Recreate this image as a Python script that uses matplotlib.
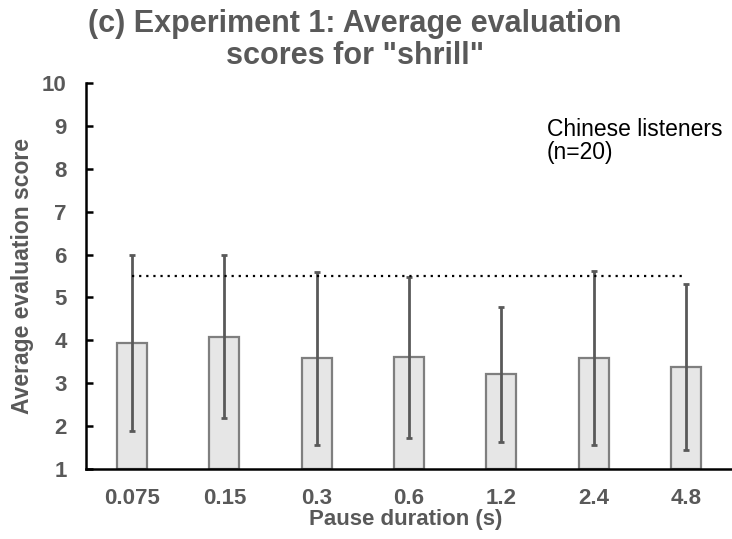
import matplotlib.pyplot as plt
import numpy as np

# Experiment 1 scores for "shrill", Chinese listeners
pauses = ["0.075", "0.15", "0.3", "0.6", "1.2", "2.4", "4.8"]
means = [3.94, 4.08, 3.58, 3.60, 3.21, 3.58, 3.38]
sds = [2.05, 1.90, 2.01, 1.88, 1.57, 2.03, 1.94]
ref_level = 5.5

GREY = "#595959"
plt.rcParams['font.family'] = ['Liberation Sans', 'DejaVu Sans']

fig = plt.figure(figsize=(7.32, 5.39), dpi=100)
ax = fig.add_axes([86 / 732, 70 / 539, 646 / 732, 386 / 539])

x = np.arange(len(pauses))
ax.bar(x, np.array(means) - 1, bottom=1, width=0.325, color="#e6e6e6",
       edgecolor="#7f7f7f", linewidth=1.6, zorder=2)
ax.errorbar(x, means, yerr=sds, fmt="none", ecolor=GREY, elinewidth=2.0,
            capsize=2, capthick=2.0, zorder=3)
ax.plot([x[0], x[-1]], [ref_level, ref_level], linestyle=(0, (1, 2.2)),
        color="black", linewidth=1.6, zorder=4)

ax.set_xlim(-0.5, 6.5)
ax.set_ylim(1, 10)
ax.set_yticks(range(1, 11))
ax.set_xticks(x)
ax.set_xticklabels(pauses)

for s in ["top", "right"]:
    ax.spines[s].set_visible(False)
for s in ["left", "bottom"]:
    ax.spines[s].set_linewidth(1.8)
ax.tick_params(direction="in", length=5, width=1.8, colors="black",
               labelcolor=GREY)
ax.tick_params(axis="x", pad=14)
ax.tick_params(axis="y", pad=14)
for lab in ax.get_xticklabels():
    lab.set_fontsize(16)
    lab.set_fontweight("bold")
for lab in ax.get_yticklabels():
    lab.set_fontsize(16)
    lab.set_fontweight("bold")

ax.set_ylabel("Average evaluation score", fontsize=16.5, fontweight="bold",
              color=GREY)
ax.yaxis.set_label_coords(-52 / 646, 0.5)
ax.set_xlabel("Pause duration (s)", fontsize=16, fontweight="bold",
              color=GREY)
ax.xaxis.set_label_coords(0.495, -40 / 386)

fig.text(355 / 732, 1 - 40 / 539,
         '(c) Experiment 1: Average evaluation\nscores for "shrill"',
         ha="center", va="center", fontsize=22, fontweight="bold",
         color=GREY, linespacing=1.08)
fig.text(547 / 732, 1 - 141 / 539, "Chinese listeners\n(n=20)",
         ha="left", va="center", fontsize=16.5, color="black",
         linespacing=1.05)

fig.savefig("out.png", dpi=100)
